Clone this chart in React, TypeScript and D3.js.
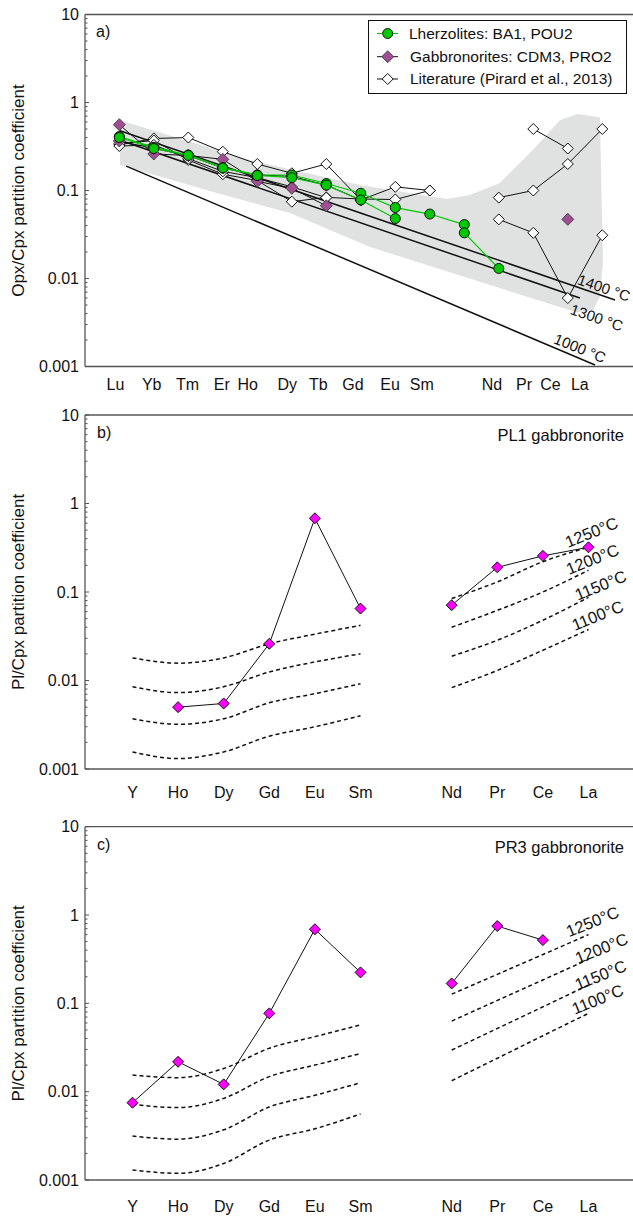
import React from 'react';
import * as d3 from 'd3';

const FONT = '"Liberation Sans", Arial, Helvetica, sans-serif';

// ---------- Panel a data ----------
const reeA = ['Lu', 'Yb', 'Tm', 'Er', 'Ho', 'Dy', 'Tb', 'Gd', 'Eu', 'Sm', 'Pm', 'Nd', 'Pr', 'Ce', 'La'];
const tickLabelsA = ['Lu', 'Yb', 'Tm', 'Er', 'Ho', 'Dy', 'Tb', 'Gd', 'Eu', 'Sm', 'Nd', 'Pr', 'Ce', 'La'];
const tickPosA = [-0.11, 0.94, 1.98, 2.97, 3.72, 4.87, 5.77, 6.77, 7.85, 8.77, 10.8, 11.73, 12.5, 13.35];

const lherzBA1 = [0.41, 0.31, 0.253, 0.182, 0.15, 0.15, 0.12, 0.093, 0.064, 0.054, 0.041, null, null, null, null];
const lherzPOU2 = [0.40, 0.30, 0.25, 0.18, 0.148, 0.14, 0.115, 0.078, 0.048, null, 0.033, 0.013, null, null, null];

const gabCDM3 = [0.56, 0.26, 0.25, 0.226, 0.127, 0.106, 0.067, null, null, null, null, null, null, null, null];
const gabPRO2 = [0.365, 0.30, 0.25, 0.18, 0.15, 0.145, 0.115, 0.078, null, null, null, null, null, 0.047, null];

const lit1 = [0.33, 0.39, 0.40, 0.276, 0.2, 0.157, 0.2, 0.078, 0.11, 0.1, null, null, null, null, null];
const lit2 = [0.34, 0.37, 0.222, 0.153, 0.13, 0.0746, 0.0836, 0.08, 0.079, 0.1, null, null, null, null, null];
const lit3 = [0.32, 0.33, 0.23, 0.165, 0.14, 0.11, 0.083, null, null, null, null, null, null, null, null];
const lit4 = [null, null, null, null, null, null, null, null, null, null, null, 0.083, 0.1, 0.2, 0.5];
const lit5 = [null, null, null, null, null, null, null, null, null, null, null, null, 0.5, 0.3, null];
const lit6 = [null, null, null, null, null, null, null, null, null, null, null, 0.047, 0.033, 0.006, 0.031];

// Pirard et al. range (index along REE axis, value)
const bandA: [number, number][] = [
  [0.02, 0.63], [3.79, 0.222], [5.03, 0.171], [6.98, 0.1155], [9.5, 0.08], [10.16, 0.089],
  [11.03, 0.122], [11.99, 0.289], [12.77, 0.63], [13.27, 0.74], [13.93, 0.68], [13.99, 0.0555],
  [14.02, 0.015], [13.93, 0.0062], [13.73, 0.0044], [13.27, 0.0041], [7.27, 0.0228], [5.9, 0.0385],
  [4.95, 0.0555], [2.83, 0.0937], [0.02, 0.195],
];

const tempNamesA = ['1400 °C', '1300 °C', '1000 °C'];
const tempStartA: [number, number][] = [[0, 0.48], [0, 0.375], [0.2, 0.189]];
const tempEndA: [number, number][] = [[14.37, 0.0057], [13.35, 0.006], [13.79, 0.00104]];
const tempLabelA: [number, number][] = [[14.05, 0.0078], [13.84, 0.00359], [13.35, 0.00161]];

// ---------- Panels b & c data ----------
const reeB = ['Y', 'Ho', 'Dy', 'Gd', 'Eu', 'Sm', '', 'Nd', 'Pr', 'Ce', 'La'];
const leftCats = ['Y', 'Ho', 'Dy', 'Gd', 'Eu', 'Sm'];
const rightCats = ['Nd', 'Pr', 'Ce', 'La'];
const tempNamesBC = ['1250°C', '1200°C', '1150°C', '1100°C'];

const pl1 = [null, 0.005, 0.0055, 0.026, 0.68, 0.065, null, 0.071, 0.19, 0.256, 0.32];
const pr3 = [0.0075, 0.0218, 0.0121, 0.077, 0.69, 0.224, null, 0.168, 0.75, 0.52, null];

const pl1Left = [
  [0.018, 0.0157, 0.018, 0.026, 0.0334, 0.042],
  [0.0085, 0.0073, 0.0085, 0.0125, 0.0162, 0.020],
  [0.0037, 0.0032, 0.0037, 0.0056, 0.0071, 0.0092],
  [0.00156, 0.00131, 0.00156, 0.00235, 0.0030, 0.0040],
];
const pl1Right = [
  [0.0845, 0.13, 0.22, 0.32],
  [0.040, 0.062, 0.1, 0.176],
  [0.0188, 0.0285, 0.048, 0.087],
  [0.0083, 0.013, 0.022, 0.0377],
];
const pr3Left = [
  [0.0154, 0.0144, 0.0183, 0.031, 0.042, 0.057],
  [0.0072, 0.0066, 0.0084, 0.0148, 0.020, 0.027],
  [0.00314, 0.0029, 0.0037, 0.0067, 0.0091, 0.0126],
  [0.0013, 0.00119, 0.00154, 0.00283, 0.0038, 0.0056],
];
const pr3Right = [
  [0.127, 0.213, 0.357, 0.60],
  [0.063, 0.108, 0.184, 0.315],
  [0.0296, 0.052, 0.0914, 0.161],
  [0.0133, 0.0239, 0.043, 0.077],
];

const yTickValues = [0.001, 0.01, 0.1, 1, 10];
const yTickLabels = ['0.001', '0.01', '0.1', '1', '10'];

// ---------- layout ----------
const W = 633;
const H = 1216;
const AX = 85;
const LABEL_OFFS_B: [number, number][] = [[3, -15], [4, -11], [12, -12], [9, -14]];
const LABEL_OFFS_C: [number, number][] = [[4, -13], [13, -11], [12, -10], [9, -14]];

const GREEN = '#00c800';
const PURPLE = '#a04f94';
const MAGENTA = '#ff00ff';

const diamond = (r: number) => `M0,${-r}L${r},0L0,${r}L${-r},0Z`;

function LogFrame({ y, top, bottom, title }: { y: d3.ScaleLogarithmic<number, number>; top: number; bottom: number; title: string }) {
  const minors: number[] = [];
  for (let d = 0.001; d < 9; d *= 10) {
    for (let k = 2; k <= 9; k++) minors.push(k * d);
  }
  const axisColor = '#555';
  return (
    <g>
      <line x1={AX} x2={W} y1={top} y2={top} stroke={axisColor} strokeWidth={1.3} />
      <line x1={AX} x2={W} y1={bottom} y2={bottom} stroke={axisColor} strokeWidth={1.3} />
      <line x1={AX} x2={AX} y1={top} y2={bottom} stroke={axisColor} strokeWidth={1.3} />
      {minors.map((m, i) => (
        <line key={'m' + i} x1={AX} x2={AX + 2.5} y1={y(m)} y2={y(m)} stroke={axisColor} strokeWidth={1} />
      ))}
      {yTickValues.map((v, i) => (
        <g key={'t' + i}>
          <line x1={AX} x2={AX + 4} y1={y(v)} y2={y(v)} stroke={axisColor} strokeWidth={1} />
          <text x={AX - 6} y={y(v)} dy="0.35em" textAnchor="end" fontSize={16} fill="#111">{yTickLabels[i]}</text>
        </g>
      ))}
      <text transform={`translate(18,${(top + bottom) / 2}) rotate(-90)`} textAnchor="middle" dy="0.35em" fontSize={17} fill="#111">{title}</text>
    </g>
  );
}

function PanelA() {
  const top = 14.5, bottom = 366.5;
  const x = d3.scaleLinear().domain([0, 14]).range([119.3, 602.3]);
  const y = d3.scaleLog().domain([0.001, 10]).range([bottom, top]);
  const series = (vals: (number | null)[]) => vals.map((v, i) => [i, v] as [number, number | null]);
  const line = d3.line<[number, number | null]>()
    .defined((d) => d[1] != null)
    .x((d) => x(d[0]))
    .y((d) => y(d[1] as number));
  const band = d3.line<[number, number]>().x((d) => x(d[0])).y((d) => y(d[1])).curve(d3.curveLinearClosed);
  const lits = [lit1, lit2, lit3, lit4, lit5, lit6];
  const gabs = [gabCDM3, gabPRO2];
  const lhz = [lherzBA1, lherzPOU2];
  const pts = (vals: (number | null)[]) => vals.map((v, i) => ({ i, v })).filter((d) => d.v != null) as { i: number; v: number }[];
  return (
    <g>
      <path d={band(bandA) || ''} fill="#e0e1e1" stroke="none" />
      {tempNamesA.map((n, k) => (
        <g key={n}>
          <line x1={x(tempStartA[k][0])} y1={y(tempStartA[k][1])} x2={x(tempEndA[k][0])} y2={y(tempEndA[k][1])} stroke="#111" strokeWidth={1.5} />
          <text transform={`translate(${x(tempLabelA[k][0])},${y(tempLabelA[k][1])}) rotate(${k === 2 ? 22 : 19})`} textAnchor="middle" dy="0.35em" fontSize={15} fill="#111">{n}</text>
        </g>
      ))}
      <LogFrame y={y} top={top} bottom={bottom} title="Opx/Cpx partition coefficient" />
      {lits.map((s, k) => <path key={'ll' + k} d={line(series(s)) || ''} fill="none" stroke="#111" strokeWidth={1} />)}
      {lits.map((s, k) => pts(s).map((p) => (
        <path key={'lp' + k + '_' + p.i} d={diamond(5.5)} transform={`translate(${x(p.i)},${y(p.v)})`} fill="#fff" stroke="#111" strokeWidth={1} />
      )))}
      {gabs.map((s, k) => <path key={'gl' + k} d={line(series(s)) || ''} fill="none" stroke="#111" strokeWidth={1} />)}
      {gabs.map((s, k) => pts(s).map((p) => (
        <path key={'gp' + k + '_' + p.i} d={diamond(6)} transform={`translate(${x(p.i)},${y(p.v)})`} fill={PURPLE} stroke="#333" strokeWidth={0.8} />
      )))}
      {lhz.map((s, k) => <path key={'hl' + k} d={line(series(s)) || ''} fill="none" stroke={GREEN} strokeWidth={1.2} />)}
      {lhz.map((s, k) => pts(s).map((p) => (
        <circle key={'hp' + k + '_' + p.i} cx={x(p.i)} cy={y(p.v)} r={5} fill={GREEN} stroke="#111" strokeWidth={1} />
      )))}
      {tickLabelsA.map((t, i) => (
        <text key={t} x={x(tickPosA[i])} y={390} textAnchor="middle" fontSize={16} fill="#111">{t}</text>
      ))}
      <text x={96} y={37} fontSize={16} fill="#111">a)</text>
      {/* legend */}
      <rect x={368.5} y={20.5} width={258} height={73} fill="#fff" stroke="#111" strokeWidth={1} />
      <line x1={377} x2={398} y1={33.5} y2={33.5} stroke={GREEN} strokeWidth={1.2} />
      <circle cx={387.7} cy={33.5} r={5} fill={GREEN} stroke="#111" strokeWidth={1} />
      <text x={409} y={33.5} dy="0.35em" fontSize={15.5} fill="#111">Lherzolites: BA1, POU2</text>
      <line x1={377} x2={398} y1={56.7} y2={56.7} stroke="#111" strokeWidth={1} />
      <path d={diamond(6)} transform="translate(387.7,56.7)" fill={PURPLE} stroke="#333" strokeWidth={0.8} />
      <text x={410} y={56.7} dy="0.35em" fontSize={15.5} fill="#111">Gabbronorites: CDM3, PRO2</text>
      <line x1={377} x2={398} y1={79} y2={79} stroke="#111" strokeWidth={1} />
      <path d={diamond(5.5)} transform="translate(387.7,79)" fill="#fff" stroke="#111" strokeWidth={1} />
      <text x={410} y={79} dy="0.35em" fontSize={15.5} fill="#111">Literature (Pirard et al., 2013)</text>
    </g>
  );
}

function PanelBC({ top, bottom, data, left, right, name, tag, labelY, offs }: {
  top: number; bottom: number; data: (number | null)[]; left: number[][]; right: number[][];
  name: string; tag: string; labelY: number; offs: [number, number][];
}) {
  const x = d3.scalePoint<string>().domain(reeB).range([132.5, 588.5]);
  const y = d3.scaleLog().domain([0.001, 10]).range([bottom, top]);
  const dash = d3.line<[string, number]>().x((d) => x(d[0]) as number).y((d) => y(d[1])).curve(d3.curveMonotoneX);
  const dataLine = d3.line<[string, number | null]>()
    .defined((d) => d[1] != null)
    .x((d) => x(d[0]) as number)
    .y((d) => y(d[1] as number));
  const ser = reeB.map((c, i) => [c, data[i]] as [string, number | null]);
  return (
    <g>
      <LogFrame y={y} top={top} bottom={bottom} title="Pl/Cpx partition coefficient" />
      {left.map((vals, k) => (
        <path key={'dl' + k} d={dash(leftCats.map((c, i) => [c, vals[i]] as [string, number])) || ''} fill="none" stroke="#111" strokeWidth={1.5} strokeDasharray="4,3" />
      ))}
      {right.map((vals, k) => (
        <path key={'dr' + k} d={dash(rightCats.map((c, i) => [c, vals[i]] as [string, number])) || ''} fill="none" stroke="#111" strokeWidth={1.5} strokeDasharray="4,3" />
      ))}
      {right.map((vals, k) => {
        const ex = x(rightCats[rightCats.length - 1]) as number;
        const ey = y(vals[vals.length - 1]);
        return (
          <text key={'tl' + k} transform={`translate(${ex + offs[k][0]},${ey + offs[k][1]}) rotate(-22)`} textAnchor="middle" dy="0.35em" fontSize={16.5} fill="#111">{tempNamesBC[k]}</text>
        );
      })}
      <path d={dataLine(ser) || ''} fill="none" stroke="#111" strokeWidth={1} />
      {ser.filter((d) => d[1] != null).map((d) => (
        <path key={'p' + d[0]} d={diamond(5.5)} transform={`translate(${x(d[0])},${y(d[1] as number)})`} fill={MAGENTA} stroke="#111" strokeWidth={1} />
      ))}
      {reeB.filter((c) => c !== '').map((c) => (
        <text key={c} x={x(c) as number} y={labelY} textAnchor="middle" fontSize={16} fill="#111">{c}</text>
      ))}
      <text x={97} y={top + 23} fontSize={16} fill="#111">{tag}</text>
      <text x={624} y={top + 26} textAnchor="end" fontSize={16.5} fill="#111">{name}</text>
    </g>
  );
}

export default function App() {
  return (
    <svg width={W} height={H} style={{ position: 'absolute', left: 0, top: 0, background: '#fff' }} fontFamily={FONT}>
      <rect x={0} y={0} width={W} height={H} fill="#fff" />
      <PanelA />
      <PanelBC top={415} bottom={769} data={pl1} left={pl1Left} right={pl1Right} name="PL1 gabbronorite" tag="b)" labelY={798} offs={LABEL_OFFS_B} />
      <PanelBC top={826.7} bottom={1180} data={pr3} left={pr3Left} right={pr3Right} name="PR3 gabbronorite" tag="c)" labelY={1212} offs={LABEL_OFFS_C} />
    </svg>
  );
}
